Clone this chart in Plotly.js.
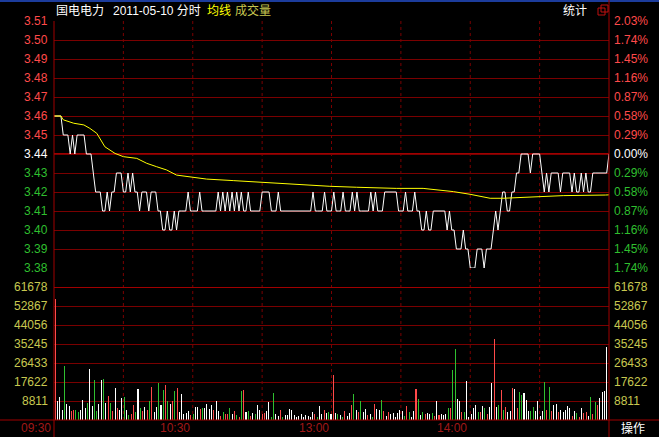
<!DOCTYPE html>
<html><head><meta charset="utf-8">
<script src="https://cdn.plot.ly/plotly-3.0.1.min.js"></script>
<style>html,body{margin:0;padding:0;background:#000;overflow:hidden}#chart{width:659px;height:437px}</style>
</head><body><div id="chart"></div>
<script>
// ---- data ----
const prevClose = 3.44;
const price = [
3.46,3.46,3.46,3.46,3.45,3.45,3.45,3.44,3.45,3.44,
3.45,3.45,3.45,3.45,3.44,3.44,3.44,3.43,3.42,3.42,
3.42,3.41,3.41,3.42,3.41,3.42,3.42,3.43,3.43,3.43,
3.42,3.42,3.43,3.42,3.43,3.42,3.42,3.41,3.42,3.42,
3.42,3.41,3.42,3.42,3.42,3.41,3.41,3.40,3.40,3.41,
3.40,3.40,3.41,3.40,3.41,3.41,3.41,3.41,3.42,3.41,
3.41,3.41,3.41,3.42,3.41,3.41,3.41,3.41,3.41,3.41,
3.41,3.42,3.41,3.42,3.41,3.42,3.41,3.42,3.41,3.42,
3.41,3.42,3.41,3.41,3.42,3.41,3.41,3.41,3.41,3.41,
3.42,3.42,3.42,3.42,3.41,3.41,3.41,3.42,3.41,3.41,
3.41,3.41,3.41,3.41,3.41,3.41,3.41,3.41,3.41,3.41,
3.41,3.41,3.42,3.41,3.41,3.41,3.41,3.42,3.41,3.41,
3.41,3.42,3.41,3.41,3.41,3.42,3.41,3.41,3.41,3.42,
3.41,3.42,3.41,3.41,3.41,3.41,3.41,3.42,3.41,3.42,
3.41,3.41,3.41,3.42,3.42,3.42,3.42,3.42,3.42,3.41,
3.41,3.41,3.42,3.41,3.41,3.41,3.42,3.41,3.41,3.40,
3.40,3.41,3.40,3.40,3.41,3.41,3.41,3.41,3.41,3.41,
3.40,3.41,3.40,3.40,3.39,3.39,3.39,3.40,3.39,3.39,
3.38,3.38,3.38,3.39,3.39,3.39,3.38,3.39,3.39,3.39,
3.40,3.41,3.40,3.41,3.42,3.42,3.41,3.41,3.42,3.42,
3.43,3.43,3.44,3.44,3.44,3.44,3.43,3.44,3.44,3.44,
3.44,3.43,3.42,3.43,3.42,3.43,3.43,3.43,3.43,3.42,
3.43,3.43,3.43,3.43,3.42,3.43,3.42,3.42,3.43,3.42,
3.43,3.42,3.42,3.43,3.43,3.43,3.43,3.43,3.43,3.43,
3.44];
const avgMinute = [0,3,4,8.5,12.9,15.5,18.5,22,26.4,30,35.8,40.1,44.4,48.7,53,58.8,66,77.5,89,99.2,110.7,119.3,130.9,148,159.6,172.7,179.9,188.6,194.2,200,208.7,220.2,238.4,240];
const avgPrice  = [3.46,3.46,3.458,3.4562,3.4553,3.4535,3.4509,3.4438,3.4403,3.4386,3.4377,3.4351,3.4333,3.4316,3.4289,3.4281,3.4268,3.4260,3.4251,3.4242,3.4233,3.4230,3.4225,3.4219,3.4219,3.4202,3.4188,3.4167,3.4167,3.4170,3.4175,3.4181,3.4184,3.4185];
const volume = [
56000,8800,10700,4600,25000,7400,6600,4300,4600,4600,
3900,4600,9300,5400,7700,23700,6500,18500,4300,7400,
18500,19000,8000,11100,7700,4300,14800,5700,4600,10000,
10800,4600,2300,2800,7000,3900,14400,5700,4300,6200,
4600,8800,15500,3700,6200,17300,7000,13900,16200,8800,
7400,8800,13600,15000,3600,12100,3000,3100,4200,2300,
2800,6200,6200,5100,5700,5400,7400,5100,7000,4600,
8800,4200,1900,3600,2800,2800,5700,2800,4200,2300,
1500,13600,13900,3700,4300,1900,3100,2800,7000,4600,
2800,3100,4200,8200,1500,12400,2600,2000,4600,1500,
2300,2300,5100,4600,2300,1500,2000,2800,1200,2300,
2000,1500,3600,2800,1500,6500,2800,4600,3100,3600,
2600,20900,3100,2600,2300,1500,4300,2000,3100,7000,
12100,4600,3600,8800,3600,5100,2300,2600,1500,7400,
5100,4600,9300,4200,2000,3600,2800,3100,1500,3100,
4600,4300,2000,6500,3600,1500,4200,14400,9700,2300,
3600,2600,3100,2600,3100,2000,8800,2300,2800,2300,
2600,5700,5400,23200,32900,9700,8800,3600,3600,18100,
1500,3000,5700,7000,3600,3900,6500,5700,2600,6200,
17000,37600,6200,7000,13900,4600,6200,3600,4300,15000,
14400,5700,12800,11600,12400,9300,4200,4200,6200,4200,
8800,2000,4200,17500,4600,15500,4200,7000,7300,3600,
4600,3600,4600,6500,5400,2000,4300,3100,1500,5400,
3100,3900,2000,10800,2600,8200,7000,10000,12800,13400,
33700];
const volDir = (
"rwwwgwwrrg"+"gwwwgwwggw"+"wgwrgrwrww"+"gwgrrgwgrw"+"rgrwwgwgrg"+
"wrgrwwwwwr"+"gwwrgwwwwr"+"wwrgrrgwrg"+"rgrwgrwgww"+"rrwwggwwrg"+
"wwwwwwwwww"+"wwwrgwwrwg"+"wrwgwgrwwr"+"gwrgwwrwgr"+"wwgrwrwwww"+
"wwgrgwwrgw"+"grwwgrwrww"+"wgrggwwrgw"+"wwwwgrwgrw"+"wrwgrgrwwr"+
"wrggwwwggw"+"wwwgrgrwwr"+"wwwwwrwgrw"+"rrwgrgrwww"+"w").split("");
const priceTicks = [3.51,3.50,3.49,3.48,3.47,3.46,3.45,3.44,3.43,3.42,3.41,3.40,3.39,3.38];
const pctLabels = ["2.03%","1.74%","1.45%","1.16%","0.87%","0.58%","0.29%","0.00%","0.29%","0.58%","0.87%","1.16%","1.45%","1.74%"];
const volTicks = [61678,52867,44056,35245,26433,17622,8811];
const timeLabels = ["09:30","10:30","13:00","14:00"];
const timeMinute = [0,60,120,180];
const gridMinute = [30,60,90,120,150,180,210];

// ---- style ----
const FONT = "Liberation Sans, Arial, Noto Sans CJK SC, sans-serif";
const GRID = "#7a0000";
const L = 54, R = 609, T = 21, B = 420, W = 659, H = 437;
const px = x => (x - L) / (R - L);
const py = y => (B - y) / (B - T);
const dirColor = {r:"#ff4a4a", g:"#2fbf2f", w:"#ffffff"};

const minutes = price.map((_, i) => i);
const traces = [
  {x: minutes, y: price, type:"scatter", mode:"lines", line:{color:"#ffffff", width:1}, xaxis:"x", yaxis:"y", hoverinfo:"skip"},
  {x: avgMinute, y: avgPrice, type:"scatter", mode:"lines", line:{color:"#ffff00", width:1}, xaxis:"x", yaxis:"y", hoverinfo:"skip"},
  {x: volume.map((_, i) => i), y: volume, type:"bar", width:0.45, marker:{color: volDir.map(d => dirColor[d]), line:{width:0}}, xaxis:"x2", yaxis:"y2", hoverinfo:"skip"}
];

const annotations = [];
priceTicks.forEach((v, k) => {
  const c = v > prevClose + 1e-9 ? "#ff4a4a" : (v < prevClose - 1e-9 ? "#2fbf2f" : "#ffffff");
  annotations.push({xref:"paper", yref:"y", x:px(50), y:v, xanchor:"right", yanchor:"middle", text:v.toFixed(2), showarrow:false, font:{family:FONT, size:12, color:c}});
  annotations.push({xref:"paper", yref:"y", x:px(612), y:v, xanchor:"left", yanchor:"middle", text:pctLabels[k], showarrow:false, font:{family:FONT, size:12, color:c}});
});
volTicks.forEach(v => {
  annotations.push({xref:"paper", yref:"y2", x:px(50), y:v, xanchor:"right", yanchor:"middle", text:String(v), showarrow:false, font:{family:FONT, size:12, color:"#c8c850"}});
  annotations.push({xref:"paper", yref:"y2", x:px(612), y:v, xanchor:"left", yanchor:"middle", text:String(v), showarrow:false, font:{family:FONT, size:12, color:"#c8c850"}});
});
timeLabels.forEach((t, k) => {
  annotations.push({xref:"x", yref:"paper", x:timeMinute[k], y:py(428), xanchor:"right", yanchor:"middle", xshift:-1, text:t, showarrow:false, font:{family:FONT, size:12, color:"#a01818"}});
});
annotations.push({xref:"paper", yref:"paper", x:px(619), y:py(428), xanchor:"left", yanchor:"middle", text:"操作", showarrow:false, font:{family:FONT, size:12, color:"#ffffff"}});
annotations.push({xref:"paper", yref:"paper", x:px(54), y:py(11), xanchor:"left", yanchor:"middle", text:"国电电力", showarrow:false, font:{family:FONT, size:12, color:"#ffffff"}});
annotations.push({xref:"paper", yref:"paper", x:px(111), y:py(11), xanchor:"left", yanchor:"middle", text:"2011-05-10 分时", showarrow:false, font:{family:FONT, size:12, color:"#ffffff"}});
annotations.push({xref:"paper", yref:"paper", x:px(205), y:py(11), xanchor:"left", yanchor:"middle", text:"均线", showarrow:false, font:{family:FONT, size:12, color:"#ffff00"}});
annotations.push({xref:"paper", yref:"paper", x:px(233), y:py(11), xanchor:"left", yanchor:"middle", text:"成交量", showarrow:false, font:{family:FONT, size:12, color:"#c8c850"}});
annotations.push({xref:"paper", yref:"paper", x:px(561), y:py(11), xanchor:"left", yanchor:"middle", text:"统计", showarrow:false, font:{family:FONT, size:12, color:"#ffffff"}});

const shapes = [];
// top blue line
shapes.push({type:"rect", xref:"paper", yref:"paper", x0:px(0), x1:px(W), y0:py(0), y1:py(2), fillcolor:"#1c3c9c", line:{width:0}, layer:"above"});
// vertical dotted time lines
gridMinute.forEach(m => {
  shapes.push({type:"line", xref:"x", yref:"paper", x0:m, x1:m, y0:0, y1:1, line:{color:GRID, width:1, dash:"dot"}, layer:"below"});
});
// prev close line
shapes.push({type:"line", xref:"paper", yref:"y", x0:0, x1:1, y0:prevClose, y1:prevClose, line:{color:"#a00000", width:2}, layer:"below"});
// volume top line
shapes.push({type:"line", xref:"paper", yref:"y2", x0:0, x1:1, y0:volTicks[0], y1:volTicks[0], line:{color:"#a00000", width:2}, layer:"below"});
// borders
shapes.push({type:"line", xref:"paper", yref:"paper", x0:px(54), x1:px(54), y0:py(21), y1:py(H), line:{color:"#a00000", width:1}});
shapes.push({type:"line", xref:"paper", yref:"paper", x0:px(609), x1:px(609), y0:py(0), y1:py(H), line:{color:"#a00000", width:1}});
shapes.push({type:"line", xref:"paper", yref:"paper", x0:px(0), x1:px(W), y0:py(420), y1:py(420), line:{color:"#a00000", width:1}});
// window icon next to 统计
shapes.push({type:"rect", xref:"paper", yref:"paper", x0:px(598), x1:px(605), y0:py(15), y1:py(8), line:{color:"#c01010", width:1}});
shapes.push({type:"rect", xref:"paper", yref:"paper", x0:px(601), x1:px(608), y0:py(12), y1:py(5), line:{color:"#c01010", width:1}});

const layout = {
  width: W, height: H,
  margin: {l: L, r: W - R, t: T, b: H - B, pad: 0},
  paper_bgcolor: "#000000", plot_bgcolor: "#000000",
  showlegend: false,
  xaxis: {domain:[0,1], range:[0,240], showgrid:false, zeroline:false, showticklabels:false, ticks:"", anchor:"y"},
  xaxis2: {domain:[0,1], range:[-0.566,241], showgrid:false, zeroline:false, showticklabels:false, ticks:"", anchor:"y2"},
  yaxis: {domain:[(B-268)/(B-T),1], range:[3.38,3.51], tickvals:priceTicks, showticklabels:false, ticks:"", gridcolor:GRID, gridwidth:1, zeroline:false},
  yaxis2: {domain:[0,(B-287)/(B-T)], range:[0,61678], tickvals:volTicks, showticklabels:false, ticks:"", gridcolor:GRID, gridwidth:1, zeroline:false},
  bargap: 0,
  annotations: annotations,
  shapes: shapes
};
Plotly.newPlot("chart", traces, layout, {displayModeBar:false, staticPlot:true});
</script>
</body></html>
